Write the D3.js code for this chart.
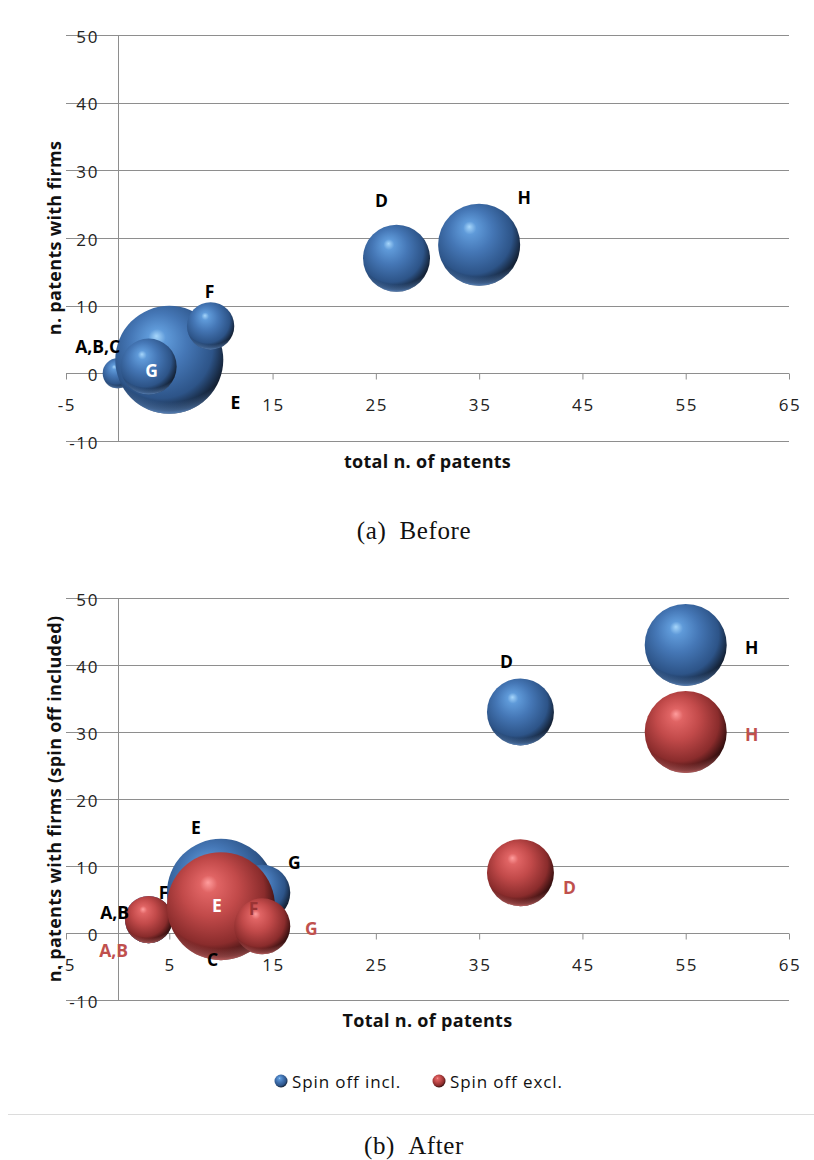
<!DOCTYPE html>
<html>
<head>
<meta charset="utf-8">
<script src="https://cdn.jsdelivr.net/npm/d3@7/dist/d3.min.js"></script>
<style>
  html, body { margin: 0; padding: 0; background: #ffffff; }
  svg { display: block; }
  .tick-label { font-family: "Open Sans", Lato, sans-serif; font-size: 17px; fill: #222; letter-spacing: 1.6px; }
  .axis-title { font-family: "Open Sans", Lato, sans-serif; font-size: 18px; font-weight: bold; fill: #111; letter-spacing: 0.3px; }
  .point-label { font-family: "Open Sans", Lato, sans-serif; font-size: 17.5px; font-weight: bold; }
  .legend-text { font-family: "Open Sans", Lato, sans-serif; font-size: 17px; fill: #111; letter-spacing: 0.9px; }
  .caption { font-family: "Liberation Serif", "DejaVu Serif", serif; font-size: 25px; fill: #111; letter-spacing: 0.6px; }
</style>
</head>
<body>
<script>
// Axis ticks shared by both panels
const xTicks = [-5, 5, 15, 25, 35, 45, 55, 65];
const yTicks = [-10, 0, 10, 20, 30, 40, 50];

// Panel (a): before
const beforeNames = ["A,B,C", "D", "E", "F", "G", "H"];
const beforeTotal = [0, 27, 5, 9, 3, 35];
const beforeFirms = [0, 17, 2, 7, 1, 19];
const beforeSize  = [2, 10, 26, 5, 7, 15];

// Panel (b): after, spin-offs included
const inclNames = ["A,B", "C", "D", "E", "F", "G", "H"];
const inclTotal = [3, 9, 39, 10, 9, 14, 55];
const inclFirms = [2, 0, 33, 6, 7, 6, 43];
const inclSize  = [5, 2, 10, 26, 5, 7, 15];

// Panel (b): after, spin-offs excluded (F sits behind E)
const exclNames = ["A,B", "D", "F", "E", "G", "H"];
const exclTotal = [3, 39, 9, 10, 14, 55];
const exclFirms = [2, 9, 4, 4, 1, 30];
const exclSize  = [5, 10, 5, 26, 7, 15];

const legendLabels = ["Spin off incl.", "Spin off excl."];

// Label placement relative to each bubble centre (px) and label colour
const labelLayout = {
  before: { "A,B,C": [-20, -27], "D": [-15, -58], "E": [66, 42], "F": [-1, -35], "G": [3, 3, "#ffffff"], "H": [45, -48] },
  incl:   { "A,B": [-34, -8], "C": [2, 26], "D": [-14, -51], "E": [-25, -66], "F": [-47, 6], "G": [32, -31], "H": [66, 2] },
  excl:   { "A,B": [-35, 30], "D": [49, 14], "E": [-4, -1, "#ffffff"], "F": [43, 2, "#9a3434"], "G": [49, 2], "H": [66, 2] }
};

const W = 814, H = 1160;
const svg = d3.select("body").append("svg").attr("width", W).attr("height", H);
const defs = svg.append("defs");

// Glossy sphere fills
const palettes = {
  blue: { hi: "#a6d6fb", light: "#5f9ad9", base: "#4577b6", mid: "#2d5488", dark: "#0f1826", rim: "#6fa3e6" },
  red:  { hi: "#ff9d9d", light: "#e06464", base: "#c24a4a", mid: "#8a2c2c", dark: "#260a0a", rim: "#e67a7a" }
};
Object.entries(palettes).forEach(([key, p]) => {
  const g = defs.append("radialGradient").attr("id", "sphere-" + key)
    .attr("cx", 0.43).attr("cy", 0.4).attr("r", 0.62).attr("fx", 0.38).attr("fy", 0.28);
  [[0, p.hi], [0.13, p.light], [0.42, p.base], [0.78, p.mid], [1, p.dark]].forEach(([o, c]) =>
    g.append("stop").attr("offset", o).attr("stop-color", c));
  const r = defs.append("radialGradient").attr("id", "rim-" + key)
    .attr("cx", 0.5).attr("cy", 0.22).attr("r", 0.78);
  [[0, 0], [0.86, 0], [0.96, 0.45], [1, 0.75]].forEach(([o, a]) =>
    r.append("stop").attr("offset", o).attr("stop-color", p.rim).attr("stop-opacity", a));
});

const x = d3.scaleLinear().domain([-5, 65]).range([66, 789]);
const size = d3.scaleSqrt().domain([0, 26]).range([0, 54]);

function zip(names, xs, ys, ss) {
  return names.map((n, i) => ({ name: n, x: xs[i], y: ys[i], s: ss[i] }));
}

function panel(opts) {
  const y = d3.scaleLinear().domain([-10, 50]).range([opts.bottom, opts.top]);
  const g = svg.append("g");

  // horizontal gridlines
  g.selectAll("line.grid").data(yTicks).join("line")
    .attr("x1", x(-5)).attr("x2", x(65))
    .attr("y1", d => Math.round(y(d)) + 0.5).attr("y2", d => Math.round(y(d)) + 0.5)
    .attr("stroke", "#8e8e8e").attr("stroke-width", 1);

  // vertical axis at x = 0
  g.append("line").attr("x1", Math.round(x(0)) + 0.5).attr("x2", Math.round(x(0)) + 0.5)
    .attr("y1", y(50)).attr("y2", y(-10)).attr("stroke", "#8e8e8e");

  // horizontal axis at y = 0 with ticks
  const xAxis = d3.axisBottom(x).tickValues(xTicks).tickSize(6).tickFormat("");
  const ax = g.append("g").attr("transform", `translate(0.5,${Math.round(y(0)) + 0.5})`).call(xAxis);
  ax.select(".domain").remove();
  ax.selectAll(".tick line").attr("stroke", "#8e8e8e").attr("transform", "translate(-0.5,0)");

  g.selectAll("text.xt").data(xTicks).join("text").attr("class", "tick-label")
    .attr("x", d => x(d) + 1).attr("y", y(0) + 31)
    .attr("text-anchor", "middle").attr("dominant-baseline", "central")
    .text(d => d);

  g.selectAll("text.yt").data(yTicks).join("text").attr("class", "tick-label")
    .attr("x", 99).attr("y", d => y(d) + 1)
    .attr("text-anchor", "end").attr("dominant-baseline", "central")
    .text(d => d);

  // axis titles
  g.append("text").attr("class", "axis-title")
    .attr("transform", `translate(54,${(y(50) + y(-10)) / 2}) rotate(-90)`)
    .attr("text-anchor", "middle").attr("dominant-baseline", "central")
    .text(opts.yTitle);
  g.append("text").attr("class", "axis-title")
    .attr("x", (x(-5) + x(65)) / 2).attr("y", y(-10) + 20)
    .attr("text-anchor", "middle").attr("dominant-baseline", "central")
    .text(opts.xTitle);

  // bubbles, series in order, points in data order
  const labels = [];
  opts.series.forEach(sr => {
    const sg = g.append("g");
    const nodes = sg.selectAll("g.b").data(sr.data).join("g");
    nodes.append("circle").attr("cx", d => x(d.x)).attr("cy", d => y(d.y)).attr("r", d => size(d.s))
      .attr("fill", `url(#sphere-${sr.palette})`);
    nodes.append("circle").attr("cx", d => x(d.x)).attr("cy", d => y(d.y)).attr("r", d => size(d.s))
      .attr("fill", `url(#rim-${sr.palette})`);
    sr.data.forEach(d => {
      const lay = labelLayout[sr.layout][d.name];
      labels.push({ text: d.name, lx: x(d.x) + lay[0], ly: y(d.y) + lay[1], color: lay[2] || sr.labelColor });
    });
  });

  g.selectAll("text.pl").data(labels).join("text").attr("class", "point-label")
    .attr("x", d => d.lx).attr("y", d => d.ly)
    .attr("text-anchor", "middle").attr("dominant-baseline", "central")
    .attr("fill", d => d.color).text(d => d.text);
}

panel({
  top: 35, bottom: 441,
  yTitle: "n. patents with firms", xTitle: "total n. of patents",
  series: [{ data: zip(beforeNames, beforeTotal, beforeFirms, beforeSize), palette: "blue", labelColor: "#000000", layout: "before" }]
});

panel({
  top: 598, bottom: 1000,
  yTitle: "n. patents with firms (spin off included)", xTitle: "Total n. of patents",
  series: [
    { data: zip(inclNames, inclTotal, inclFirms, inclSize), palette: "blue", labelColor: "#000000", layout: "incl" },
    { data: zip(exclNames, exclTotal, exclFirms, exclSize), palette: "red", labelColor: "#c0504d", layout: "excl" }
  ]
});

// legend
const legendX = [281, 439];
const leg = svg.append("g");
legendLabels.forEach((t, i) => {
  const pal = i === 0 ? "blue" : "red";
  leg.append("circle").attr("cx", legendX[i]).attr("cy", 1081).attr("r", 6.5).attr("fill", `url(#sphere-${pal})`);
  leg.append("text").attr("class", "legend-text").attr("x", legendX[i] + 11).attr("y", 1081)
    .attr("dominant-baseline", "central").text(t);
});

// separator and captions
svg.append("line").attr("x1", 8).attr("x2", 814).attr("y1", 1114.5).attr("y2", 1114.5)
  .attr("stroke", "#dcdcdc").attr("stroke-width", 1);
svg.append("text").attr("class", "caption").attr("x", 414).attr("y", 530)
  .attr("text-anchor", "middle").attr("dominant-baseline", "central").text("(a)\u2002Before");
svg.append("text").attr("class", "caption").attr("x", 414).attr("y", 1145)
  .attr("text-anchor", "middle").attr("dominant-baseline", "central").text("(b)\u2002After");
</script>
</body>
</html>
